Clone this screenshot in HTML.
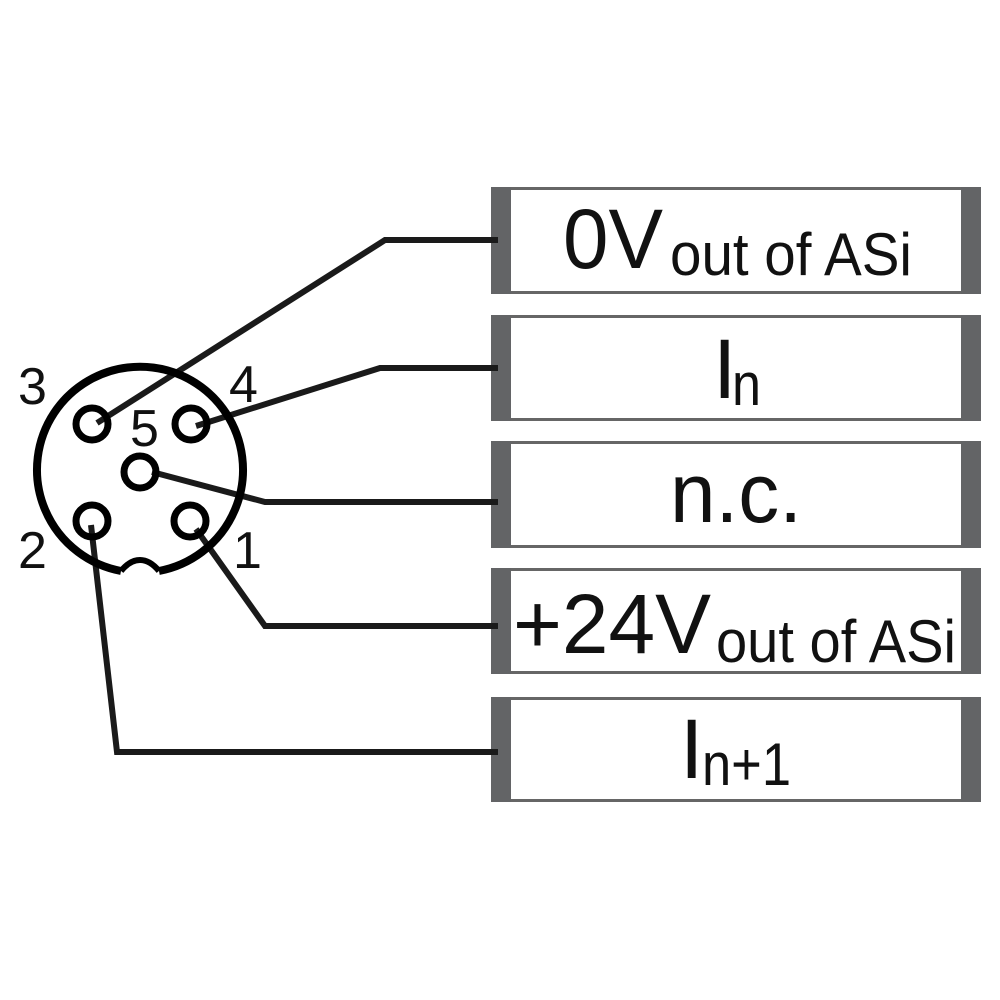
<!DOCTYPE html>
<html><head><meta charset="utf-8"><style>html,body{margin:0;padding:0;background:#fff}svg{display:block}</style></head>
<body>
<svg width="1000" height="1000" viewBox="0 0 1000 1000" xmlns="http://www.w3.org/2000/svg" font-family="'Liberation Sans', Arial, sans-serif" fill="#111">
<g>
<g fill="#fff" stroke="#666" stroke-width="3">
<rect x="492.5" y="188.5" width="487" height="104"/>
<rect x="492.5" y="316.5" width="487" height="103"/>
<rect x="492.5" y="442.5" width="487" height="104"/>
<rect x="492.5" y="569.5" width="487" height="103"/>
<rect x="492.5" y="698.5" width="487" height="102"/>
</g>
<g fill="#636466">
<rect x="491" y="187" width="20" height="107"/><rect x="961" y="187" width="20" height="107"/>
<rect x="491" y="315" width="20" height="106"/><rect x="961" y="315" width="20" height="106"/>
<rect x="491" y="441" width="20" height="107"/><rect x="961" y="441" width="20" height="107"/>
<rect x="491" y="568" width="20" height="106"/><rect x="961" y="568" width="20" height="106"/>
<rect x="491" y="697" width="20" height="105"/><rect x="961" y="697" width="20" height="105"/>
</g>
</g>
<g fill="none" stroke="#1a1a1a" stroke-width="6" stroke-linejoin="miter">
<polyline points="97,423 385,240 498,240"/>
<polyline points="196,426 380,368 498,368"/>
<polyline points="152,472 265,502 498,502"/>
<polyline points="196,529 265,626 498,626"/>
<polyline points="91,525 117,752 498,752"/>
</g>
<g fill="none" stroke="#000">
<path d="M 159,571 A 103 103 0 1 0 121,571" stroke-width="8"/>
<path d="M 121,571 Q 130,560 140,560 Q 150,560 159,571" stroke-width="6"/>
<circle cx="92" cy="424" r="16" stroke-width="7"/>
<circle cx="191" cy="424" r="16" stroke-width="7"/>
<circle cx="140" cy="472" r="16" stroke-width="7"/>
<circle cx="92" cy="521" r="16" stroke-width="7"/>
<circle cx="190" cy="521" r="16" stroke-width="7"/>
</g>
<g font-size="52" fill="#111">
<text x="18" y="404">3</text>
<text x="229" y="402">4</text>
<text x="130" y="446">5</text>
<text x="18" y="568">2</text>
<text x="233" y="568">1</text>
</g>
<text x="563" y="268" font-size="84" textLength="100" lengthAdjust="spacingAndGlyphs">0V</text>
<text x="670" y="275" font-size="60" textLength="242" lengthAdjust="spacingAndGlyphs">out of ASi</text>
<text x="713" y="398" font-size="84">I</text>
<text x="732" y="405" font-size="60" textLength="29" lengthAdjust="spacingAndGlyphs">n</text>
<text x="670" y="522" font-size="84" textLength="132" lengthAdjust="spacingAndGlyphs">n.c.</text>
<text x="513" y="653" font-size="84" textLength="198" lengthAdjust="spacingAndGlyphs">+24V</text>
<text x="716" y="662" font-size="60" textLength="240" lengthAdjust="spacingAndGlyphs">out of ASi</text>
<text x="680" y="778" font-size="84">I</text>
<text x="702" y="785" font-size="60" textLength="89" lengthAdjust="spacingAndGlyphs">n+1</text>
</svg>
</body></html>
